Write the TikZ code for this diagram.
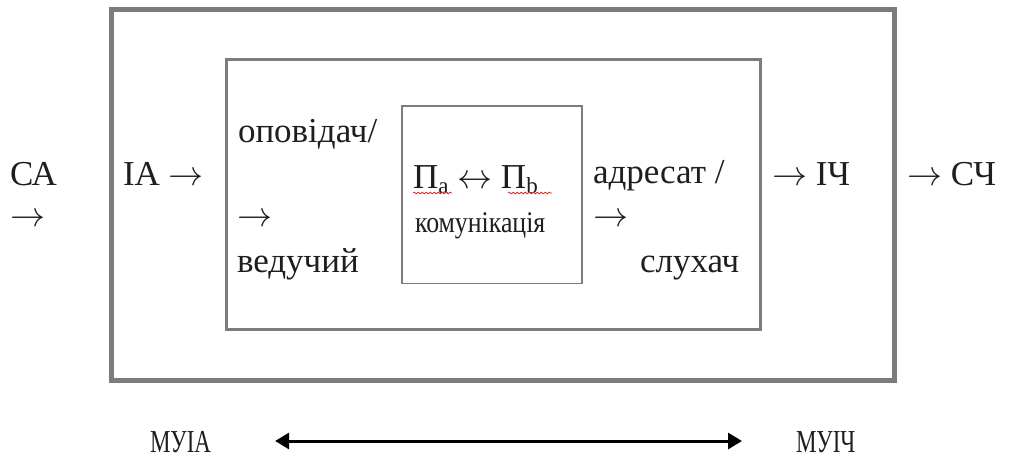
\documentclass[tikz,border=0pt]{standalone}
\usepackage{graphicx}
\usepackage{fontspec}
\setmainfont{Liberation Serif}
\usetikzlibrary{arrows.meta,decorations.pathmorphing}
\definecolor{frame}{HTML}{7C7C7C}
\definecolor{ink}{HTML}{1E1E1E}
\definecolor{spell}{HTML}{E0302A}
% text arrows one em wide at the 35pt label size
\newcommand{\ra}{\resizebox{35pt}{!}{\(\rightarrow\)}}
\newcommand{\lra}{\resizebox{35pt}{!}{\(\leftrightarrow\)}}
\newcommand{\subs}[1]{\raisebox{-0.16em}{\fontsize{23}{23}\selectfont #1}}
\tikzset{
  lbl/.style={anchor=base west,inner sep=0pt,outer sep=0pt,text=ink,
    font=\fontsize{35}{40}\selectfont},
  small/.style={anchor=base west,inner sep=0pt,outer sep=0pt,text=ink,
    font=\fontsize{30}{34}\selectfont,xscale=0.86,transform shape},
  axis/.style={anchor=base west,inner sep=0pt,outer sep=0pt,text=ink,
    font=\fontsize{32}{36}\selectfont,xscale=0.72,transform shape},
  outerbox/.style={draw=frame,line width=5pt},
  midbox/.style={draw=frame,line width=3pt},
  innerbox/.style={draw=frame,line width=1.3pt},
  squiggle/.style={draw=spell,line width=0.8pt,
    decorate,decoration={snake,amplitude=0.9pt,segment length=4pt}},
}
\begin{document}
\begin{tikzpicture}[x=1pt,y=-1pt]
\useasboundingbox (0,0) rectangle (1010,460);

% nested frames
\draw[outerbox] (111,9.5) rectangle (894,380);
\draw[midbox] (226,60) rectangle (760,329.5);
\draw[innerbox] (402,106) rectangle (582,283.5);

% outer level
\node[lbl] (sa) at (10,185) {СА};
\node[lbl] (saarr) at (10,226) {\ra};
\node[lbl] (ia) at (123,185) {ІА \ra};
\node[lbl] (ich) at (772,185) {\ra\ ІЧ};
\node[lbl] (sch) at (907,185) {\ra\ СЧ};

% middle level
\node[lbl] (opov) at (238,142) {оповідач/};
\node[lbl] (oparr) at (237,226) {\ra};
\node[lbl] (ved) at (237,272) {ведучий};
\node[lbl] (adr) at (593,183) {адресат /};
\node[lbl] (adrarr) at (593,226) {\ra};
\node[lbl] (sluh) at (640,272) {слухач};

% inner level
\node[lbl] (pp) at (413,188) {П\subs{a} \lra\ П\subs{b}};
\node[small] (kom) at (415,232) {комунікація};
\draw[squiggle] (413,193) -- (452,193);
\draw[squiggle] (508,193) -- (552,193);

% bottom axis
\node[axis] (muia) at (150,452) {МУІА};
\node[axis] (muich) at (796,452) {МУІЧ};
\draw[{Triangle[length=14pt,width=16pt]}-{Triangle[length=14pt,width=16pt]},
  line width=3pt,draw=black,shorten <=64pt,shorten >=54pt]
  (muia.east |- 0,441) -- (muich.west |- 0,441);
\end{tikzpicture}
\end{document}
